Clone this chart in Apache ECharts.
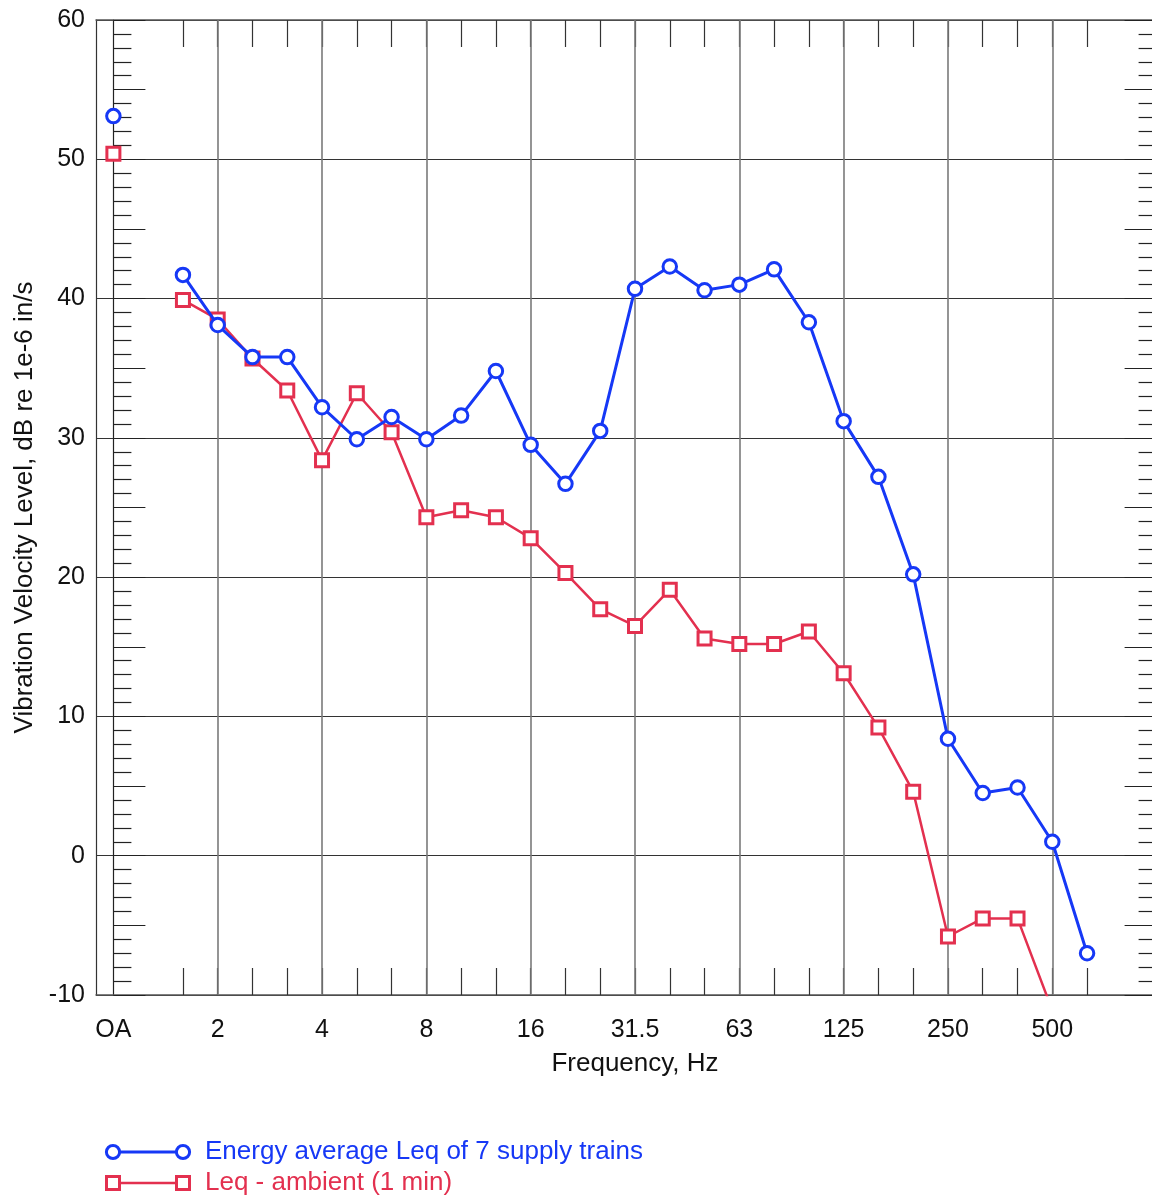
<!DOCTYPE html>
<html>
<head>
<meta charset="utf-8">
<title>Vibration Velocity Level</title>
<script src="https://cdn.jsdelivr.net/npm/echarts@6/dist/echarts.min.js"></script>
<style>
  html, body { margin: 0; padding: 0; background: #ffffff; overflow: hidden; width: 1152px; height: 1199px; }
  /* the plot frame runs past the right edge of the page */
  #chart { width: 1174px; height: 1199px; }
</style>
</head>
<body>
<div id="chart"></div>
<script>
// One-third octave band centre frequencies, Hz (OA = overall level, blank slot after it)
const frequencies = ['OA', '', '1.6', '2', '2.5', '3.15', '4', '5', '6.3', '8', '10', '12.5', '16', '20', '25',
  '31.5', '40', '50', '63', '80', '100', '125', '160', '200', '250', '315', '400', '500', '630', '800', '1000'];

// Labelled (octave) frequencies on the x axis
const octaveLabels = ['OA', '2', '4', '8', '16', '31.5', '63', '125', '250', '500'];

// Energy average Leq of 7 supply trains, dB re 1e-6 in/s
const trainLeq = [53.1, null, 41.7, 38.1, 35.8, 35.8, 32.2, 29.9, 31.5, 29.9, 31.6, 34.8, 29.5, 26.7, 30.5,
  40.7, 42.3, 40.6, 41.0, 42.1, 38.3, 31.2, 27.2, 20.2, 8.4, 4.5, 4.9, 1.0, -7.0, null, null];

// Leq - ambient (1 min), dB re 1e-6 in/s
const ambientLeq = [50.4, null, 39.9, 38.5, 35.7, 33.4, 28.4, 33.2, 30.4, 24.3, 24.8, 24.3, 22.8, 20.3, 17.7,
  16.5, 19.1, 15.6, 15.2, 15.2, 16.1, 13.1, 9.2, 4.6, -5.8, -4.5, -4.5, -11.1, null, null, null];

// Vertical axis range and tick step
const yMin = -10, yMax = 60, yStep = 10;

const BLUE = '#1638F6';
const RED = '#E3304F';
const FONT = '"Liberation Sans", Arial, Helvetica, sans-serif';

const trainName = 'Energy average Leq of 7 supply trains';
const ambientName = 'Leq - ambient (1 min)';

const chart = echarts.init(document.getElementById('chart'), null, { renderer: 'canvas' });

// Band ticks run from the first real band (1.6 Hz) to 630 Hz
const firstBand = frequencies.indexOf('1.6');
const lastBand = frequencies.indexOf('630');
const bandTick = (i) => i >= firstBand && i <= lastBand;

// Inner y scale with 1 dB minor ticks and longer 5 dB ticks
function innerScale(position) {
  return {
    type: 'value', position: position, offset: -17.4,
    min: yMin, max: yMax, interval: 5,
    axisLine: { show: true, onZero: false, lineStyle: { color: '#222', width: 1.2 } },
    axisTick: { show: true, inside: true, length: 32, lineStyle: { color: '#222', width: 1.2 } },
    minorTick: { show: true, splitNumber: 5, length: 18, lineStyle: { color: '#222', width: 1.2 } },
    axisLabel: { show: false },
    splitLine: { show: false }
  };
}

function bandAxis(position) {
  return {
    type: 'category', position: position, data: frequencies, boundaryGap: true,
    axisLine: { show: true, onZero: false, lineStyle: { color: '#555', width: 1.5 } },
    axisTick: { show: true, inside: true, length: 27, alignWithLabel: true, interval: bandTick,
      lineStyle: { color: '#333', width: 1.2 } },
    axisLabel: position === 'bottom' ? {
      show: true, interval: (i, v) => octaveLabels.indexOf(v) >= 0,
      fontFamily: FONT, fontSize: 25, color: '#111', margin: 23
    } : { show: false },
    splitLine: { show: false },
    name: position === 'bottom' ? 'Frequency, Hz' : '',
    nameLocation: 'middle', nameGap: 56,
    nameTextStyle: { fontFamily: FONT, fontSize: 26, color: '#111' }
  };
}

const legendRows = [
  { name: trainName, color: BLUE, marker: 'circle', y: 1152 },
  { name: ambientName, color: RED, marker: 'rect', y: 1183 }
];
const legendGraphics = [];
legendRows.forEach((row) => {
  legendGraphics.push({ type: 'line', shape: { x1: 113, y1: row.y, x2: 183, y2: row.y },
    style: { stroke: row.color, lineWidth: row.marker === 'circle' ? 3 : 2.5 } });
  [113, 183].forEach((cx) => {
    if (row.marker === 'circle') {
      legendGraphics.push({ type: 'circle', shape: { cx: cx, cy: row.y, r: 6.6 },
        style: { fill: '#fff', stroke: row.color, lineWidth: 3 } });
    } else {
      legendGraphics.push({ type: 'rect', shape: { x: cx - 6.5, y: row.y - 6.5, width: 13, height: 13 },
        style: { fill: '#fff', stroke: row.color, lineWidth: 3 } });
    }
  });
  legendGraphics.push({ type: 'text', x: 205, y: row.y,
    style: { text: row.name, fill: row.color, font: '26px ' + FONT, textVerticalAlign: 'middle', textAlign: 'left' } });
});

const option = {
  animation: false,
  backgroundColor: '#ffffff',
  textStyle: { fontFamily: FONT },
  grid: { left: 96, right: 0, top: 20, bottom: 204, containLabel: false },
  xAxis: [bandAxis('bottom'), bandAxis('top')],
  yAxis: [
    {
      type: 'value', position: 'left',
      min: yMin, max: yMax, interval: yStep,
      axisLine: { show: true, onZero: false, lineStyle: { color: '#333', width: 1.2 } },
      axisTick: { show: false },
      axisLabel: { fontFamily: FONT, fontSize: 25, color: '#111', margin: 11 },
      splitLine: { show: true, lineStyle: { color: '#333', width: 1.2 } },
      name: 'Vibration Velocity Level, dB re 1e-6 in/s',
      nameLocation: 'middle', nameGap: 57,
      nameTextStyle: { fontFamily: FONT, fontSize: 26, color: '#111' }
    },
    innerScale('left'),
    innerScale('right')
  ],
  graphic: legendGraphics,
  series: [
    {
      // Octave grid lines drawn at the labelled band centres
      type: 'line', data: [], silent: true, z: 1,
      markLine: {
        silent: true, symbol: 'none', z: 1, animation: false,
        label: { show: false },
        lineStyle: { color: '#7a7a7a', width: 1.6, type: 'solid' },
        data: octaveLabels.filter((l) => l !== 'OA').map((l) => ({ xAxis: l }))
      }
    },
    {
      name: trainName, type: 'line', data: trainLeq, z: 4,
      symbol: 'circle', symbolSize: 13.5, connectNulls: false, clip: true,
      lineStyle: { color: BLUE, width: 3 },
      itemStyle: { color: '#ffffff', borderColor: BLUE, borderWidth: 3 }
    },
    {
      name: ambientName, type: 'line', data: ambientLeq, z: 3,
      symbol: 'rect', symbolSize: 13, connectNulls: false, clip: true,
      lineStyle: { color: RED, width: 2.5 },
      itemStyle: { color: '#ffffff', borderColor: RED, borderWidth: 3 }
    }
  ]
};

chart.setOption(option);
</script>
</body>
</html>
